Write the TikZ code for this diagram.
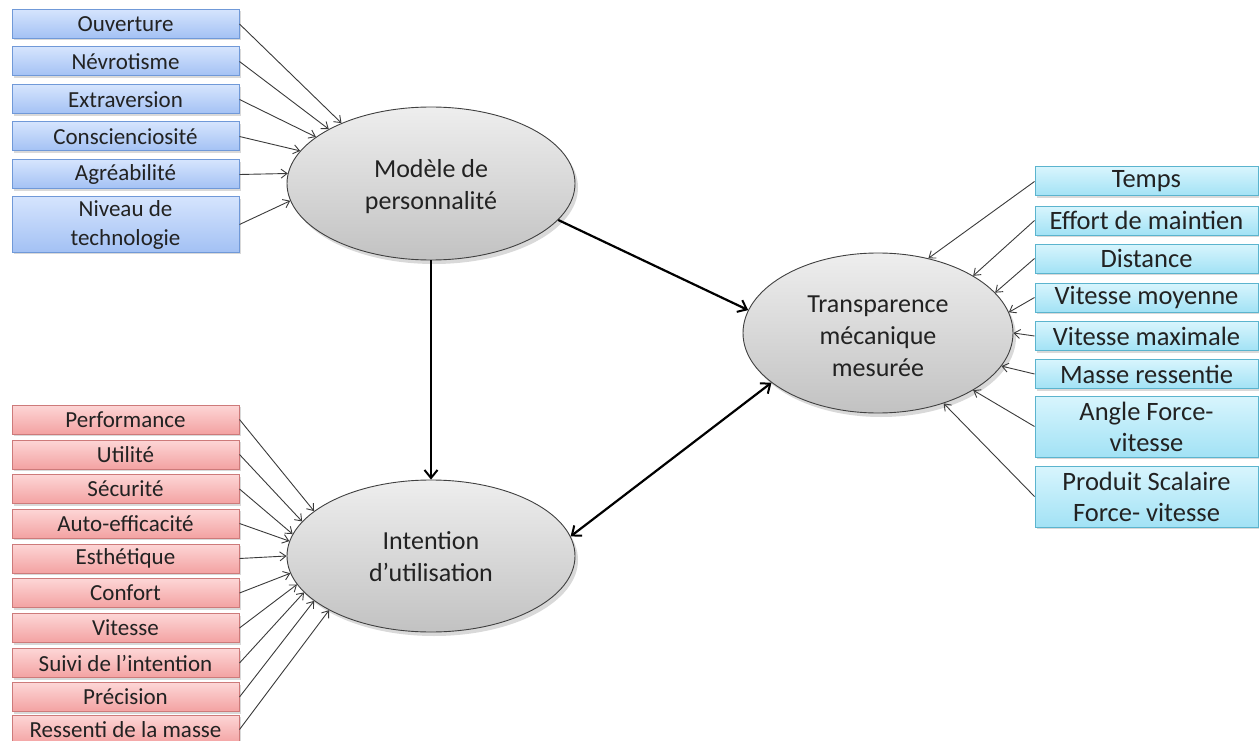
\documentclass[tikz,border=0pt]{standalone}
\usepackage{fontspec}
\setmainfont{Carlito}
\usetikzlibrary{arrows.meta,shadows,shapes.geometric}

\definecolor{bluetop}{HTML}{D5E4FD}
\definecolor{bluebot}{HTML}{A3C1F4}
\definecolor{blueedge}{HTML}{7099D8}
\definecolor{redtop}{HTML}{FDD6D6}
\definecolor{redbot}{HTML}{F3A2A2}
\definecolor{rededge}{HTML}{CD7A7A}
\definecolor{cyantop}{HTML}{D8F5FD}
\definecolor{cyanbot}{HTML}{A2E2F5}
\definecolor{cyanedge}{HTML}{5BB4CE}
\definecolor{elltop}{HTML}{EEEEEE}
\definecolor{ellbot}{HTML}{C2C2C2}
\definecolor{ink}{HTML}{222222}
\definecolor{wire}{HTML}{3A3A3A}

\tikzset{
  factorbox/.style={rectangle, line width=1pt, inner sep=0pt, align=center,
    text=ink, minimum height=29pt,
    drop shadow={shadow xshift=2pt, shadow yshift=-2pt, opacity=0.25, fill=black!60}},
  bluebox/.style={factorbox, draw=blueedge, top color=bluetop, bottom color=bluebot,
    minimum width=227pt, font=\fontsize{23}{29}\selectfont},
  redbox/.style={factorbox, draw=rededge, top color=redtop, bottom color=redbot,
    minimum width=227pt, font=\fontsize{23}{29}\selectfont},
  cyanbox/.style={factorbox, draw=cyanedge, top color=cyantop, bottom color=cyanbot,
    minimum width=223pt, font=\fontsize{26.5}{31}\selectfont},
  latent/.style={ellipse, draw=black!75, line width=0.9pt, top color=elltop,
    bottom color=ellbot, inner sep=0pt,
    drop shadow={shadow xshift=3pt, shadow yshift=-4pt, opacity=0.25, fill=black!60}},
  latent text/.style={inner sep=0pt, align=center, text=ink,
    font=\fontsize{26}{32}\selectfont},
  indicator/.style={draw=wire, line width=0.9pt,
    -{Straight Barb[length=6pt,width=9pt,line width=0.9pt]}},
  path link/.style={draw=black, line width=2.2pt,
    -{Straight Barb[length=8pt,width=13pt,line width=2pt]}},
  mutual link/.style={draw=black, line width=2.2pt,
    {Straight Barb[length=8pt,width=13pt,line width=2pt]}-{Straight Barb[length=8pt,width=13pt,line width=2pt]}}
}

\begin{document}
\begin{tikzpicture}[x=1pt,y=-1pt]
\useasboundingbox (0,0) rectangle (1259,741);
\begin{scope}
\clip (0,0) rectangle (1259,741);

% latent constructs
\node[latent, minimum width=288pt, minimum height=153pt] (mod) at (431,183.5) {};
\node[latent, minimum width=288pt, minimum height=152pt] (int) at (431,556) {};
\node[latent, minimum width=270pt, minimum height=160pt] (tra) at (878,333) {};
\node[latent text] (modtext) at ([yshift=-3.5pt]mod.center) {Modèle de\\personnalité};
\node[latent text] (inttext) at ([yshift=-1pt]int.center) {Intention\\d’utilisation};
\node[latent text] (tratext) at ([yshift=-3.5pt]tra.center) {Transparence\\mécanique\\mesurée};

% personality indicators
\node[bluebox] (ouv) at (125.5,24) {Ouverture};
\node[bluebox] (nev) at (125.5,61.5) {Névrotisme};
\node[bluebox] (ext) at (125.5,99.5) {Extraversion};
\node[bluebox] (con) at (125.5,136.5) {Conscienciosité};
\node[bluebox] (agr) at (125.5,174.5) {Agréabilité};
\node[bluebox, minimum height=55pt] (niv) at (125.5,224.5) {Niveau de\\technologie};

% intention indicators
\node[redbox] (perf) at (125.5,419.5) {Performance};
\node[redbox] (util) at (125.5,454.5) {Utilité};
\node[redbox] (secu) at (125.5,489) {Sécurité};
\node[redbox] (auto) at (125.5,523.5) {Auto-efficacité};
\node[redbox] (esth) at (125.5,558.5) {Esthétique};
\node[redbox] (conf) at (125.5,593) {Confort};
\node[redbox] (vit) at (125.5,628) {Vitesse};
\node[redbox] (suiv) at (125.5,663) {Suivi de l’intention};
\node[redbox] (prec) at (125.5,697) {Précision};
\node[redbox] (ress) at (125.5,729.5) {Ressenti de la masse};

% measured transparency indicators
\node[cyanbox] (temps) at (1146.5,181.5) {Temps};
\node[cyanbox] (effort) at (1146.5,220.5) {Effort de maintien};
\node[cyanbox] (dist) at (1146.5,258.5) {Distance};
\node[cyanbox] (vmoy) at (1146.5,297.5) {Vitesse moyenne};
\node[cyanbox] (vmax) at (1146.5,336) {Vitesse maximale};
\node[cyanbox] (masse) at (1146.5,374) {Masse ressentie};
\node[cyanbox, minimum height=61pt] (angle) at (1146.5,426.5) {Angle Force-\\vitesse};
\node[cyanbox, minimum height=61pt] (prod) at (1146.5,496.5) {Produit Scalaire\\Force- vitesse};

% indicator arrows
\draw[indicator] (ouv.east) -- (mod.146);
\draw[indicator] (nev.east) -- (mod.152);
\draw[indicator] (ext.east) -- (mod.158.6);
\draw[indicator] (con.east) -- (mod.166.3);
\draw[indicator] (agr.east) -- (mod.176.6);
\draw[indicator] (niv.east) -- (mod.187.8);

\draw[indicator] (perf.east) -- (int.159.6);
\draw[indicator] (util.east) -- (int.165.8);
\draw[indicator] (secu.east) -- (int.171.3);
\draw[indicator] (auto.east) -- (int.174.4);
\draw[indicator] (esth.east) -- (int.180);
\draw[indicator] (conf.east) -- (int.187.6);
\draw[indicator] (vit.east) -- (int.192.6);
\draw[indicator] (suiv.east) -- (int.196.6);
\draw[indicator] (prec.east) -- (int.201.6);
\draw[indicator] (ress.east) -- (int.208.9);

\draw[indicator] (temps.west) -- (tra.56.3);
\draw[indicator] (effort.west) -- (tra.31.4);
\draw[indicator] (dist.west) -- (tra.19.2);
\draw[indicator] (vmoy.west) -- (tra.9.2);
\draw[indicator] (vmax.west) -- (tra.0);
\draw[indicator] (masse.west) -- (tra.-15.8);
\draw[indicator] (angle.west) -- (tra.-31);
\draw[indicator] (prod.west) -- (tra.-47);

% structural paths
\draw[path link] (mod.south) -- (int.north);
\draw[path link] (mod.-16.6) -- (tra.170.7);
\draw[mutual link] (int.8.4) -- (tra.205.3);
\end{scope}
\end{tikzpicture}
\end{document}
